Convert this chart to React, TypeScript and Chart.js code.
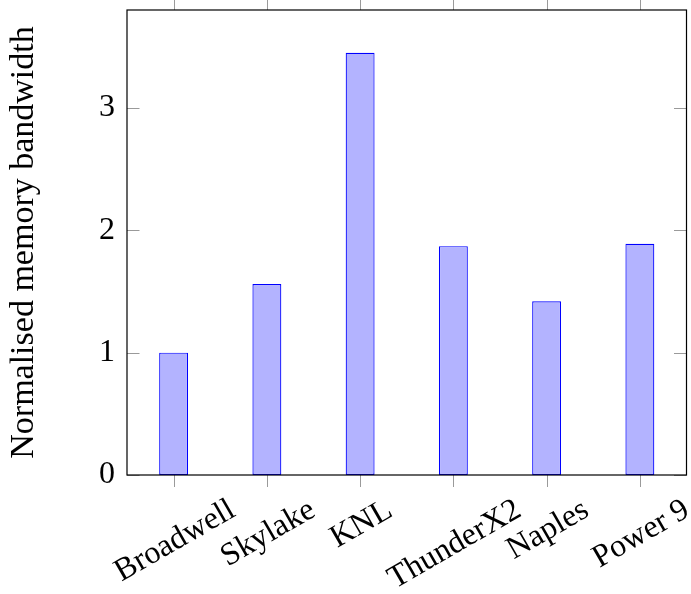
import React, { useEffect, useRef } from "react";
import { Chart, registerables } from "chart.js";

Chart.register(...registerables);

const categories = ["Broadwell", "Skylake", "KNL", "ThunderX2", "Naples", "Power 9"];
const bandwidth = [1.0, 1.56, 3.45, 1.87, 1.42, 1.89];
const yTicks = [0, 1, 2, 3];
const yMin = 0;
const yMax = 3.8;
const yTitle = "Normalised memory bandwidth";

const FONT = '"Liberation Serif", "DejaVu Serif", serif';
const FONT_SIZE = 32;

const framePlugin = {
  id: "frameAndTicks",
  afterDraw(chart: any) {
    const { ctx, chartArea } = chart;
    const xs = chart.scales.x;
    const ys = chart.scales.y;
    const { left, right, top, bottom } = chartArea;
    ctx.save();
    // tick marks
    ctx.strokeStyle = "#9a9a9a";
    ctx.lineWidth = 1;
    const tl = 12.5;
    ctx.beginPath();
    yTicks.forEach((v) => {
      const y = Math.round(ys.getPixelForValue(v)) + 0.5;
      ctx.moveTo(left, y);
      ctx.lineTo(left + tl, y);
      ctx.moveTo(right, y);
      ctx.lineTo(right - tl, y);
    });
    categories.forEach((_, i) => {
      const x = Math.round(xs.getPixelForValue(i)) + 0.5;
      ctx.moveTo(x, bottom);
      ctx.lineTo(x, bottom + 12);
      ctx.moveTo(x, top);
      ctx.lineTo(x, top - 12);
    });
    ctx.stroke();
    // frame
    ctx.strokeStyle = "#000";
    ctx.lineWidth = 1.2;
    ctx.strokeRect(left, top, right - left, bottom - top);
    // rotated x labels, centred on ticks
    ctx.fillStyle = "#000";
    ctx.font = `${FONT_SIZE}px ${FONT}`;
    ctx.textAlign = "center";
    ctx.textBaseline = "alphabetic";
    const ang = (30 * Math.PI) / 180;
    const asc = 0.69 * FONT_SIZE;
    const T = bottom + 21;
    categories.forEach((label, i) => {
      const w = ctx.measureText(label).width;
      const bboxH = w * Math.sin(ang) + asc * Math.cos(ang);
      const cx = xs.getPixelForValue(i);
      const cy = T + bboxH / 2;
      ctx.save();
      ctx.translate(cx, cy);
      ctx.rotate(-ang);
      ctx.fillText(label, 0, asc / 2);
      ctx.restore();
    });
    ctx.restore();
  },
};

export default function App() {
  const ref = useRef<HTMLCanvasElement | null>(null);
  useEffect(() => {
    if (!ref.current) return;
    const chart = new Chart(ref.current, {
      type: "bar",
      data: {
        labels: categories,
        datasets: [
          {
            data: bandwidth,
            backgroundColor: "rgb(179,179,255)",
            borderColor: "rgb(0,0,255)",
            borderWidth: 1.2,
            borderSkipped: false,
            categoryPercentage: 1,
            barPercentage: 0.31,
          },
        ],
      },
      options: {
        animation: false,
        responsive: true,
        maintainAspectRatio: false,
        layout: { padding: { top: 10, right: 4.5, left: 0, bottom: 0 } },
        plugins: { legend: { display: false }, tooltip: { enabled: false } },
        scales: {
          x: {
            offset: true,
            ticks: { display: false },
            grid: { display: false, drawTicks: false },
            border: { display: false },
            afterFit: (s: any) => {
              s.height = 119;
              s.paddingLeft = 0;
              s.paddingRight = 0;
            },
          },
          y: {
            min: yMin,
            max: yMax,
            afterBuildTicks: (s: any) => {
              s.ticks = yTicks.map((v) => ({ value: v }));
            },
            ticks: {
              color: "#000",
              padding: 12,
              font: { family: FONT, size: FONT_SIZE },
              callback: (v: any) => String(v),
            },
            grid: { display: false, drawTicks: false },
            border: { display: false },
            title: {
              display: true,
              text: yTitle,
              color: "#000",
              font: { family: FONT, size: 34 },
              padding: { top: 4, bottom: 0 },
            },
            afterFit: (s: any) => {
              s.width = 127;
              s.paddingTop = 0;
              s.paddingBottom = 0;
            },
          },
        },
      },
      plugins: [framePlugin],
    });
    return () => chart.destroy();
  }, []);
  return (
    <div style={{ position: "absolute", left: 0, top: 0, width: 691, height: 594 }}>
      <canvas ref={ref} />
    </div>
  );
}
